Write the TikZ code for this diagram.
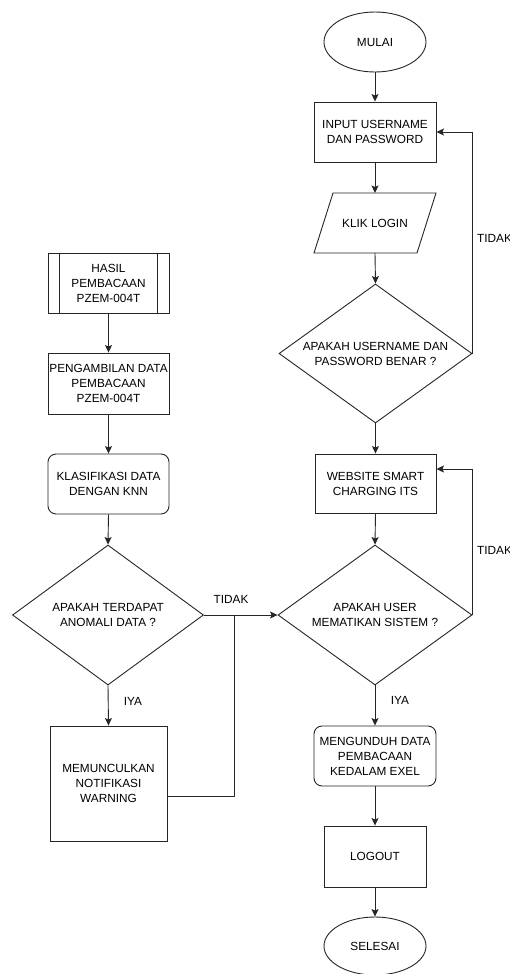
\documentclass[tikz,border=0pt]{standalone}
\usepackage{fontspec}
\setmainfont{Liberation Sans}
\usetikzlibrary{arrows.meta,shapes.geometric}
\tikzset{
  base/.style={draw=black!85, line width=0.9pt, text=black, align=center, inner sep=0pt,
    font=\fontsize{11.8}{15}\selectfont},
  procbox/.style={base, rectangle, minimum width=#1, minimum height=60},
  procbox/.default=122,
  roundbox/.style={base, rectangle, rounded corners=8pt, minimum width=122, minimum height=60},
  termin/.style={base, ellipse, minimum width=102, minimum height=60},
  decide/.style={base, diamond, minimum width=194, minimum height=140, aspect=1.39},
  plainbox/.style={rectangle, align=center, inner sep=0pt, text=black,
    font=\fontsize{11.8}{15}\selectfont, minimum width=103, minimum height=60},
  lbl/.style={text=black, inner sep=0pt, font=\fontsize{11.8}{15}\selectfont},
  arr/.style={draw=black!85, line width=0.9pt, -{Stealth[length=7.5pt,width=7pt,inset=1.5pt]}},
  ln/.style={draw=black!85, line width=0.9pt}
}
\begin{document}
\begin{tikzpicture}[x=1pt,y=-1pt]
\useasboundingbox[fill=white] (0,0) rectangle (510,974);

% right column
\node[termin] (mulai) at (375,42) {MULAI};
\node[procbox] (input) at (375,132) {INPUT USERNAME\\DAN PASSWORD};
\node[plainbox] (klik) at (375,223) {KLIK LOGIN};
\draw[base] (333,193) -- (436,193) -- (417,253) -- (314,253) -- cycle;
\node[decide, minimum width=193, minimum height=139] (d1) at (375.5,353.5) {APAKAH USERNAME DAN\\PASSWORD BENAR ?};
\node[procbox=121, minimum height=59] (website) at (375.5,483.5) {WEBSITE SMART\\CHARGING ITS};
\node[decide] (d2) at (375,615) {APAKAH USER\\MEMATIKAN SISTEM ?};
\node[roundbox] (unduh) at (375,756) {MENGUNDUH DATA\\PEMBACAAN\\KEDALAM EXEL};
\node[procbox=102, minimum height=61] (logout) at (375,856.5) {LOGOUT};
\node[termin, minimum height=58] (selesai) at (375,946) {SELESAI};

% left column
\node[procbox=121] (hasil) at (108.5,283) {HASIL\\PEMBACAAN\\PZEM-004T};
\draw[ln] ([xshift=12pt]hasil.north west) -- ([xshift=12pt]hasil.south west);
\draw[ln] ([xshift=-12pt]hasil.north east) -- ([xshift=-12pt]hasil.south east);
\node[procbox=121, minimum height=61] (ambil) at (108.5,383.5) {PENGAMBILAN DATA\\PEMBACAAN\\PZEM-004T};
\node[roundbox, minimum width=121] (klasif) at (108.5,484) {KLASIFIKASI DATA\\DENGAN KNN};
\node[decide, minimum width=191] (d3) at (108,615) {APAKAH TERDAPAT\\ANOMALI DATA ?};
\node[procbox=117, minimum height=115] (warn) at (108.5,783.5) {MEMUNCULKAN\\NOTIFIKASI\\WARNING};

\coordinate (jn) at (234,615);

% connectors right
\draw[arr] (mulai.south) -- (input.north);
\draw[arr] (input.south) -- (klik.south |- 0,193);
\draw[arr] (klik.south) -- (d1.north);
\draw[arr] (d1.south) -- (website.north);
\draw[arr] (website.south) -- (d2.north);
\draw[arr] (d2.south) -- (unduh.north);
\draw[arr] (unduh.south) -- (logout.north);
\draw[arr] (logout.south) -- (selesai.north);
\draw[arr] (d1.east) |- (input.east);
\draw[arr] (d2.east) |- ([yshift=14.5pt]website.east);

% connectors left
\draw[arr] (hasil.south) -- (ambil.north);
\draw[arr] (ambil.south) -- (klasif.north);
\draw[arr] (klasif.south) -- (d3.north);
\draw[arr] (d3.south) -- (warn.north);
\draw[arr] (d3.east) -- (d2.west);
\draw[ln] ([yshift=-12.5pt]warn.east) -| (jn);

% labels
\node[lbl, anchor=west] (t1) at (477,238) {TIDAK};
\node[lbl, anchor=west] (t2) at (477,550) {TIDAK};
\node[lbl] (t3) at (231,599) {TIDAK};
\node[lbl] (y1) at (400,700) {IYA};
\node[lbl] (y2) at (133,701) {IYA};
\end{tikzpicture}
\end{document}
